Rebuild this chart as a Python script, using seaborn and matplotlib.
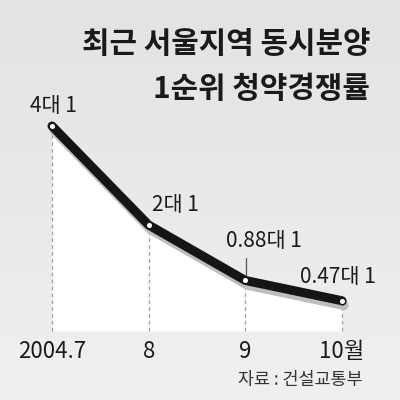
import numpy as np
import pandas as pd
import matplotlib
matplotlib.use("Agg")
import matplotlib.pyplot as plt
import matplotlib.patheffects as pe
from matplotlib.colors import LinearSegmentedColormap
import seaborn as sns

# ---- data ----
categories = ["2004.7", "8", "9", "10월"]
values = [4.0, 2.0, 0.88, 0.47]
value_labels = ["4대 1", "2대 1", "0.88대 1", "0.47대 1"]
title_lines = ["최근 서울지역 동시분양", "1순위 청약경쟁률"]
source_text = "자료 : 건설교통부"

sns.set_theme(style="white")
ko = "Noto Sans CJK KR"
plt.rcParams["font.family"] = [ko, "DejaVu Sans"]

fig = plt.figure(figsize=(4, 4), dpi=100)
ax = fig.add_axes([0, 0, 1, 1])
ax.set_axis_off()

# pixel mapping: x=0..3 at px 52..342, y=0 at px 324 (49.5 px/unit)
xpu = (342 - 52) / 3.0
ypu = 49.5
xlim = (-52 / xpu, (400 - 52) / xpu)
ylim = (-(400 - 324) / ypu, 324 / ypu)

# background gradient
grad = np.linspace(0, 1, 256).reshape(-1, 1)
cmap = LinearSegmentedColormap.from_list("bg", ["#e3e3e3", "#f0f0f0"])
ax.imshow(grad, extent=[xlim[0], xlim[1], ylim[0], ylim[1]],
          aspect="auto", cmap=cmap, origin="upper", zorder=0)
ax.set_xlim(*xlim)
ax.set_ylim(*ylim)

df = pd.DataFrame({"x": np.arange(len(values)), "y": values, "cat": categories})
base = -(331 - 324) / ypu

# white area under line
ax.fill_between(df["x"], df["y"], base, color="white", zorder=1, lw=0)

# dashed drop lines
for xi, yi in zip(df["x"], df["y"]):
    ax.plot([xi, xi], [base, yi], color="#a0a0a0", lw=0.9, ls=(0, (3, 2.5)), zorder=2)

# main line with shadow
sns.lineplot(data=df, x="x", y="y", ax=ax, color="#151515", lw=6.5, zorder=4,
             solid_joinstyle="round", solid_capstyle="round",
             path_effects=[pe.SimpleLineShadow(offset=(1.5, -3.5), shadow_color="#bdbdbd", alpha=1),
                           pe.Normal()])
ax.scatter(df["x"], df["y"], s=22, facecolor="white", edgecolor="#151515", lw=1.0, zorder=5)

# leader line for 0.88 label
ax.plot([2.01, 2.01], [values[2] + 0.05, (324 - 258) / ypu], color="#555555", lw=0.9, zorder=3)

# value labels
offsets = [(1, 20), (27, 20), (19, 39), (-4, 24)]
for xi, yi, lab, off in zip(df["x"], df["y"], value_labels, offsets):
    ax.annotate(lab, (xi, yi), xytext=off, textcoords="offset pixels",
                ha="center", va="center", fontsize=15, fontweight="medium",
                color="#1a1a1a", zorder=6)

# x tick labels
for xi, cat in zip(df["x"], df["cat"]):
    ax.text(xi, -(352 - 324) / ypu, cat, ha="center", va="center", fontsize=16,
            fontweight="medium", color="#1a1a1a")

# title
fig.text(370 / 400, 1 - 44 / 400, title_lines[0], ha="right", va="center", fontsize=21.5,
         fontweight="black", color="#1a1a1a")
fig.text(370 / 400, 1 - 89 / 400, title_lines[1], ha="right", va="center", fontsize=21.5,
         fontweight="black", color="#1a1a1a")

# source
fig.text(363 / 400, 1 - 380 / 400, source_text, ha="right", va="center", fontsize=12.5,
         color="#333333")

fig.savefig("out.png", dpi=100)
